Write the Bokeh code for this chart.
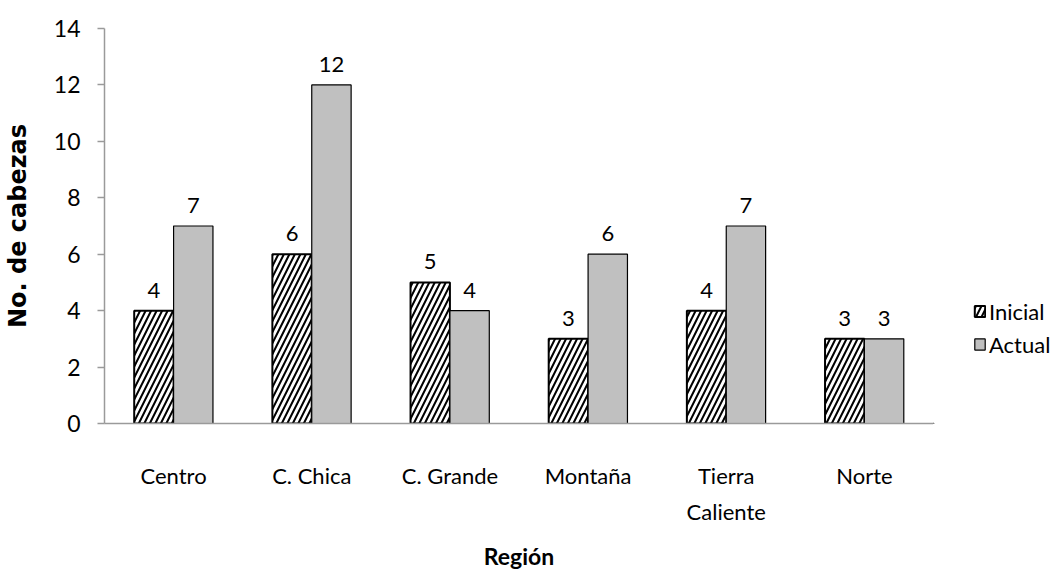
from bokeh.plotting import figure
from bokeh.layouts import row
from bokeh.models import ColumnDataSource, Range1d, FixedTicker, Legend, LegendItem
from bokeh.transform import dodge
from bokeh.embed import file_html
from bokeh.resources import INLINE

# Head counts per region
regiones = ["Centro", "C. Chica", "C. Grande", "Montaña", "Tierra\nCaliente", "Norte"]
inicial = [4, 6, 5, 3, 4, 3]
actual = [7, 12, 4, 6, 7, 3]
y_ticks = [0, 2, 4, 6, 8, 10, 12, 14]

FONT = "Lato"
BAR_W = 0.285

INI_STYLE = dict(fill_color="white", line_color="black", line_width=2,
                 hatch_pattern="/", hatch_color="black", hatch_scale=11, hatch_weight=2)
ACT_STYLE = dict(fill_color="#c0c0c0", line_color="black", line_width=1.2)

source = ColumnDataSource(dict(
    region=regiones,
    inicial=inicial,
    actual=actual,
    inicial_txt=[str(v) for v in inicial],
    actual_txt=[str(v) for v in actual],
))

p = figure(
    x_range=regiones,
    y_range=Range1d(0, 14),
    width=933, height=587,
    min_border_left=103, min_border_right=0,
    min_border_top=28, min_border_bottom=164,
    output_backend="svg", toolbar_location=None,
)
p.x_range.range_padding = 0
p.outline_line_color = None
p.xgrid.visible = False
p.ygrid.visible = False
p.background_fill_color = "white"
p.border_fill_color = "white"

p.vbar(x=dodge("region", -BAR_W / 2, range=p.x_range), top="inicial", width=BAR_W,
       source=source, **INI_STYLE)
p.vbar(x=dodge("region", BAR_W / 2, range=p.x_range), top="actual", width=BAR_W,
       source=source, **ACT_STYLE)

# value labels above each bar
for col, off in (("inicial", -BAR_W / 2), ("actual", BAR_W / 2)):
    p.text(x=dodge("region", off, range=p.x_range), y=col, text=col + "_txt", source=source,
           text_align="center", text_baseline="bottom", y_offset=-13,
           text_font={"value": FONT}, text_font_size="22px", text_color="black")

# y axis
ya = p.yaxis[0]
ya.ticker = FixedTicker(ticks=y_ticks)
ya.minor_tick_line_color = None
ya.axis_line_color = "#9a9a9a"
ya.axis_line_width = 1.5
ya.major_tick_line_color = "#9a9a9a"
ya.major_tick_line_width = 1.5
ya.major_tick_in = 0
ya.major_tick_out = 7
ya.major_label_standoff = 17
ya.major_label_text_font = FONT
ya.major_label_text_font_size = "23px"
ya.major_label_text_color = "black"
ya.axis_label = "No. de cabezas"
ya.axis_label_text_font = "DejaVu Sans"
ya.axis_label_text_font_style = "bold"
ya.axis_label_text_font_size = "24px"
ya.axis_label_text_color = "black"
ya.axis_label_standoff = 19

# x axis
xa = p.xaxis[0]
xa.axis_line_color = "#9a9a9a"
xa.axis_line_width = 1.5
xa.major_tick_line_color = None
xa.minor_tick_line_color = None
xa.major_tick_out = 0
xa.major_tick_in = 0
xa.major_label_standoff = 38
xa.major_label_text_font = FONT
xa.major_label_text_font_size = "22px"
xa.major_label_text_color = "black"
xa.major_label_text_line_height = 1.34
xa.axis_label = "Región"
xa.axis_label_text_font = FONT
xa.axis_label_text_font_style = "bold"
xa.axis_label_text_font_size = "23px"
xa.axis_label_text_color = "black"
xa.axis_label_standoff = 14

# legend panel to the right of the chart (its frame lines up with the chart frame)
leg_fig = figure(
    width=126, height=587,
    x_range=Range1d(0, 126), y_range=Range1d(0, 100),
    min_border=0, output_backend="svg", toolbar_location=None,
)
leg_fig.axis.visible = False
leg_fig.grid.visible = False
leg_fig.outline_line_color = None
leg_fig.background_fill_color = "white"
leg_fig.border_fill_color = "white"
# key renderers hold a single point far outside the visible ranges
g_ini = leg_fig.vbar(x=[-500], bottom=[-501], top=[-500], width=1, **INI_STYLE)
g_act = leg_fig.vbar(x=[-500], bottom=[-501], top=[-500], width=1, **ACT_STYLE)

legend = Legend(
    items=[LegendItem(label="Inicial", renderers=[g_ini]),
           LegendItem(label="Actual", renderers=[g_act])],
    location=(40, 64),
    orientation="vertical",
    padding=0, margin=0, spacing=3,
    glyph_width=13, glyph_height=14, label_height=30, label_standoff=3,
    label_text_font=FONT, label_text_font_size="22px", label_text_color="black",
    border_line_color=None, background_fill_alpha=0,
)
leg_fig.add_layout(legend, "center")

open("out.html", "w").write(file_html(row(p, leg_fig), INLINE))
